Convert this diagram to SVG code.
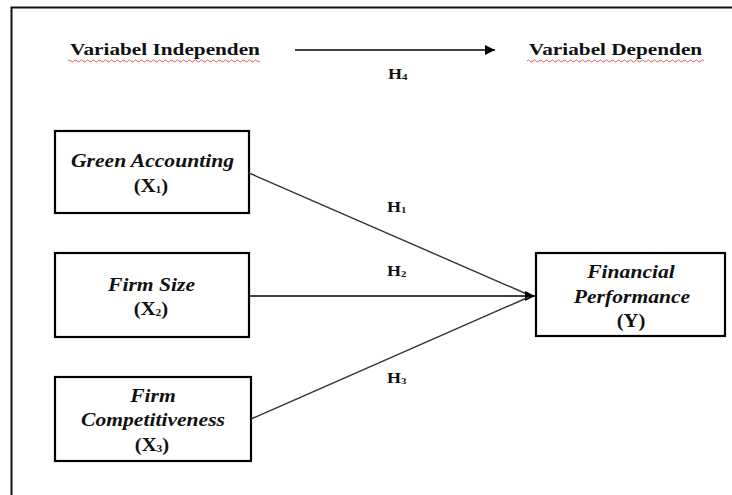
<svg xmlns="http://www.w3.org/2000/svg" width="732" height="495" viewBox="0 0 732 495">
<style>
.frame{fill:none;stroke:#111;stroke-width:2}
.box{fill:#fff;stroke:#000;stroke-width:2.2}
.hdr{font-family:"Liberation Serif","Times New Roman",serif;font-weight:bold;font-size:17px;fill:#111;text-anchor:middle}
.lbl{font-family:"Liberation Serif","Times New Roman",serif;font-weight:bold;font-size:18px;fill:#111;text-anchor:middle}
.it{font-style:italic}
.h{font-family:"Liberation Serif","Times New Roman",serif;font-weight:bold;font-size:15px;fill:#111}
.sub{font-size:10px}
.hsub{font-size:9px}
.conn{stroke:#333;stroke-width:1.4;fill:none}
.squig{fill:none;stroke:#e03030;stroke-width:0.8}
</style>
<defs>
<marker id="arr" viewBox="0 0 10 10" refX="10" refY="5" markerWidth="10" markerHeight="10" markerUnits="userSpaceOnUse" orient="auto">
<path d="M0,0 L10,5 L0,10 Z" fill="#000"/>
</marker>
</defs>
<rect width="732" height="495" fill="#fff"/>
<rect class="frame" x="11.5" y="7.5" width="800" height="600"/>

<g id="header-independen">
<text class="hdr" transform="translate(165,55) scale(1.25,1)">Variabel Independen</text>
<path class="squig" d="M68,61 q1.5,-2 3,0 t3,0 t3,0 t3,0 t3,0 t3,0 t3,0 t3,0 t3,0 t3,0 t3,0 t3,0 t3,0 t3,0 t3,0 t3,0 t3,0 t3,0 t3,0 t3,0 t3,0 t3,0 t3,0 t3,0 t3,0 t3,0 t3,0 t3,0 t3,0 t3,0 t3,0 t3,0 t3,0 t3,0 t3,0 t3,0 t3,0 t3,0 t3,0 t3,0 t3,0 t3,0 t3,0 t3,0 t3,0 t3,0 t3,0 t3,0 t3,0 t3,0 t3,0 t3,0 t3,0 t3,0 t3,0 t3,0 t3,0 t3,0 t3,0 t3,0 t3,0 t3,0 t3,0 t3,0"/>
</g>
<g id="header-dependen">
<text class="hdr" transform="translate(615.5,55) scale(1.25,1)">Variabel Dependen</text>
<path class="squig" d="M527,61 q1.5,-2 3,0 t3,0 t3,0 t3,0 t3,0 t3,0 t3,0 t3,0 t3,0 t3,0 t3,0 t3,0 t3,0 t3,0 t3,0 t3,0 t3,0 t3,0 t3,0 t3,0 t3,0 t3,0 t3,0 t3,0 t3,0 t3,0 t3,0 t3,0 t3,0 t3,0 t3,0 t3,0 t3,0 t3,0 t3,0 t3,0 t3,0 t3,0 t3,0 t3,0 t3,0 t3,0 t3,0 t3,0 t3,0 t3,0 t3,0 t3,0 t3,0 t3,0 t3,0 t3,0 t3,0 t3,0 t3,0 t3,0 t3,0 t3,0 t3,0"/>
</g>

<g id="x1">
<rect class="box" x="55" y="131" width="194" height="82"/>
<text class="lbl it" transform="translate(152.5,167) scale(1.2,1)">Green Accounting</text>
<text class="lbl" transform="translate(151,192) scale(1.15,1)">(X<tspan class="sub" dy="1">1</tspan><tspan dy="-1">)</tspan></text>
</g>

<g id="x2">
<rect class="box" x="55" y="253" width="194" height="84"/>
<text class="lbl it" transform="translate(151.5,291) scale(1.2,1)">Firm Size</text>
<text class="lbl" transform="translate(151,315) scale(1.15,1)">(X<tspan class="sub" dy="1">2</tspan><tspan dy="-1">)</tspan></text>
</g>

<g id="x3">
<rect class="box" x="55" y="377" width="196" height="84"/>
<text class="lbl it" transform="translate(153,402) scale(1.2,1)">Firm</text>
<text class="lbl it" transform="translate(153,426) scale(1.2,1)">Competitiveness</text>
<text class="lbl" transform="translate(152,451) scale(1.15,1)">(X<tspan class="sub" dy="1">3</tspan><tspan dy="-1">)</tspan></text>
</g>

<g id="y">
<rect class="box" x="536" y="253" width="189" height="83"/>
<text class="lbl it" transform="translate(631,278) scale(1.2,1)">Financial</text>
<text class="lbl it" transform="translate(632,303) scale(1.2,1)">Performance</text>
<text class="lbl" transform="translate(631,327) scale(1.15,1)">(Y)</text>
</g>

<g id="connectors">
<line class="conn" x1="295" y1="50" x2="495" y2="50" style="stroke:#000" marker-end="url(#arr)"/>
<line class="conn" x1="249" y1="173" x2="529" y2="295"/>
<line class="conn" x1="249" y1="296" x2="535" y2="296" style="stroke:#000" marker-end="url(#arr)"/>
<line class="conn" x1="251" y1="419" x2="529" y2="297"/>
</g>

<g id="labels">
<text class="h" transform="translate(388,79) scale(1.2,1)">H<tspan class="hsub" dy="1">4</tspan></text>
<text class="h" transform="translate(387,212) scale(1.2,1)">H<tspan class="hsub" dy="1">1</tspan></text>
<text class="h" transform="translate(387,276) scale(1.2,1)">H<tspan class="hsub" dy="1">2</tspan></text>
<text class="h" transform="translate(387,383) scale(1.2,1)">H<tspan class="hsub" dy="1">3</tspan></text>
</g>
</svg>
